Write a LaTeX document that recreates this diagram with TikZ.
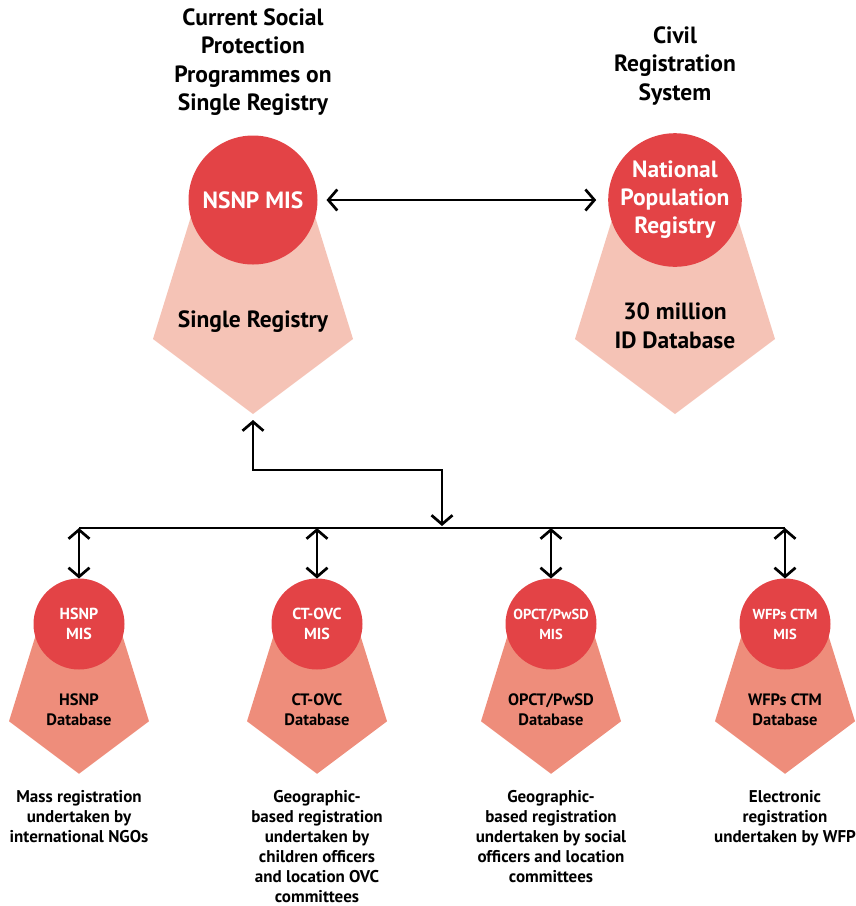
\documentclass[tikz,border=0pt]{standalone}
\usepackage{fontspec}
\setmainfont{PT Sans}
\usepackage{tikz}
\usetikzlibrary{arrows.meta,positioning}
\definecolor{rojo}{RGB}{227,67,70}
\definecolor{rosaClaro}{RGB}{245,195,182}
\definecolor{salmon}{RGB}{238,141,123}
\tikzstyle{link}   =[line width=2.7pt, <->,
                     >={Straight Barb[length=9pt,width=21pt]}]
\tikzstyle{bus}    =[line width=2.7pt]
\tikzstyle{mis}    =[circle, fill=rojo, text=white, align=center,
                     inner sep=0pt, outer sep=0pt]
\tikzstyle{bigmis} =[mis, minimum size=129pt,
                     font=\bfseries\fontsize{23.5}{28}\selectfont]
\tikzstyle{smallmis}=[mis, minimum size=91pt,
                     font=\bfseries\fontsize{16}{20}\selectfont]
\tikzstyle{heading}=[align=center, inner sep=0pt,
                     font=\bfseries\fontsize{23.5}{28.5}\selectfont]
\tikzstyle{dbtext} =[align=center, inner sep=0pt,
                     font=\bfseries\fontsize{16.5}{20}\selectfont]
\tikzstyle{note}   =[align=center, inner sep=0pt, anchor=north,
                     font=\bfseries\fontsize{17}{20}\selectfont]
\newcommand{\regshape}[4]{%
    \begin{scope}[shift={(#1,#2)},scale=#3]
        \fill[#4] (-0.6,0.1) -- (-1,1.39) -- (0,2.14) -- (1,1.39) -- (0.6,0.1) -- cycle;
    \end{scope}}

\begin{document}
\begin{tikzpicture}[x=1pt,y=-1pt]
    \useasboundingbox (0,0) rectangle (856,906);

    % headings
    \draw (253,62) node (sphead) [heading] {Current Social\\Protection\\Programmes on\\Single Registry};
    \draw (675,66) node (crhead) [heading] {Civil\\Registration\\System};

    % registries
    \regshape{253}{200}{100}{rosaClaro}
    \regshape{675}{200}{100}{rosaClaro}
    \draw (253,200) node (nsnp) [bigmis] {NSNP MIS};
    \draw (675,200) node (npr) [bigmis] {National\\Population\\Registry};
    \draw (253,322) node (sreg) [heading] {Single Registry};
    \draw (675,326) node (iddb) [heading] {30 million\\ID Database};

    % programmes
    \foreach \x in {79,317,551,785}
        \regshape{\x}{624}{70}{salmon};

    \draw (79,624) node (hsnp) [smallmis] {HSNP\\MIS};
    \draw (317,624) node (ctovc) [smallmis] {CT-OVC\\MIS};
    \draw (551,624) node (opct) [smallmis, font=\bfseries\fontsize{14.5}{20}\selectfont] {OPCT/PwSD\\MIS};
    \draw (785,624) node (wfp) [smallmis, font=\bfseries\fontsize{14.5}{20}\selectfont] {WFPs CTM\\MIS};

    \draw (79,710) node (hsnpdb) [dbtext] {HSNP\\Database};
    \draw (317,710) node (ctovcdb) [dbtext] {CT-OVC\\Database};
    \draw (551,710) node (opctdb) [dbtext] {OPCT/PwSD\\Database};
    \draw (785,710) node (wfpdb) [dbtext] {WFPs CTM\\Database};

    \draw (79,790) node (hsnpnote) [note] {Mass registration\\undertaken by\\international NGOs};
    \draw (317,790) node (ctovcnote) [note] {Geographic-\\based registration\\undertaken by\\children officers\\and location OVC\\committees};
    \draw (551,790) node (opctnote) [note] {Geographic-\\based registration\\undertaken by social\\officers and location\\committees};
    \draw (785,790) node (wfpnote) [note] {Electronic\\registration\\undertaken by WFP};

    % connectors
    \draw [link, shorten <=9pt, shorten >=12pt] (nsnp) -- (npr);

    \coordinate (srtip) at (253,420);
    \coordinate (join) at (442,526);
    \coordinate (busA) at (79,528);
    \coordinate (busB) at (785,528);
    \draw [bus] (busA) -- (busB);
    \draw [link] (srtip) -- ++(0,50) -| (join);

    \foreach \n in {hsnp,ctovc,opct,wfp}{
        \coordinate (\n bus) at (\n.north |- busA);
        \draw [link] (\n bus) -- (\n.north);
    }

\end{tikzpicture}
\end{document}
